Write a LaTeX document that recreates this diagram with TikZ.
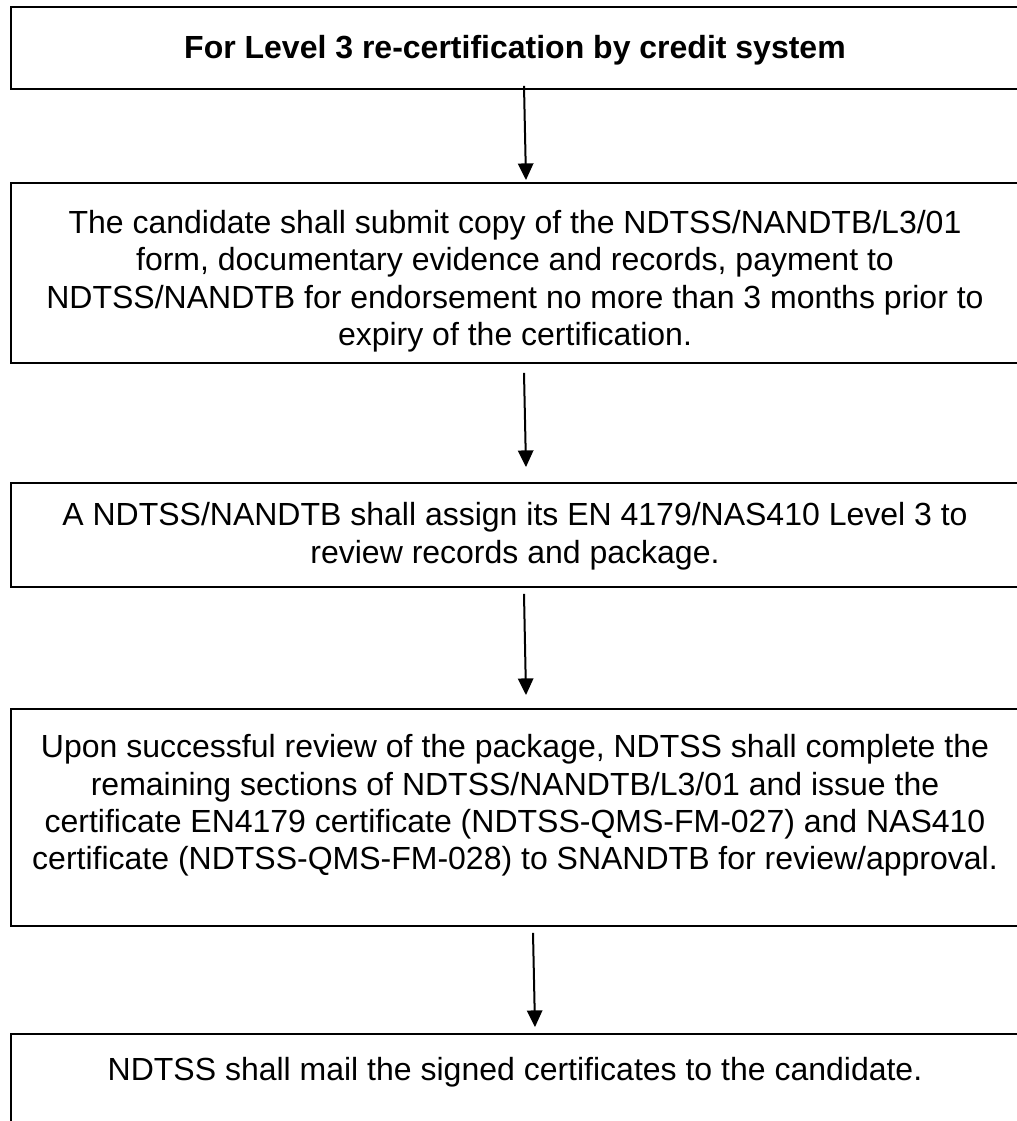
\documentclass[tikz,border=0pt]{standalone}
\usepackage{fontspec}
\setmainfont{Liberation Sans}
\usetikzlibrary{arrows.meta,calc}
\begin{document}
\begin{tikzpicture}[x=0.75pt,y=-0.75pt,
  boxshape/.style={draw=black,line width=1.4pt,rectangle,inner sep=0pt,minimum width=1010*0.75pt},
  txt/.style={align=center,inner sep=0pt,font=\fontsize{24pt}{28.1pt}\selectfont},
  arr/.style={line width=1.5pt,-{Triangle[length=12.5pt,width=11.5pt]}}]
\useasboundingbox (0,0) rectangle (1017,1121);
% boxes
\node[boxshape,minimum height=82*0.75pt]  (b1) at (516,48) {};
\node[boxshape,minimum height=180*0.75pt] (b2) at (516,273) {};
\node[boxshape,minimum height=104*0.75pt] (b3) at (516,535) {};
\node[boxshape,minimum height=217*0.75pt] (b4) at (516,817.5) {};
\node[boxshape,minimum height=120*0.75pt] (b5) at (516,1094) {};
% texts
\node[txt,font=\fontsize{24pt}{28.1pt}\selectfont\bfseries] (t1) at (515,50) {For Level 3 re-certification by credit system};
\node[txt] (t2) at (515,281) {The candidate shall submit copy of the NDTSS/NANDTB/L3/01\\form, documentary evidence and records, payment to\\NDTSS/NANDTB for endorsement no more than 3 months prior to\\expiry of the certification.};
\node[txt] (t3) at (515,536) {A NDTSS/NANDTB shall assign its EN 4179/NAS410 Level 3 to\\review records and package.};
\node[txt] (t4) at (515,805.5) {Upon successful review of the package, NDTSS shall complete the\\remaining sections of NDTSS/NANDTB/L3/01 and issue the\\certificate EN4179 certificate (NDTSS-QMS-FM-027) and NAS410\\certificate (NDTSS-QMS-FM-028) to SNANDTB for review/approval.};
\node[txt] (t5) at (515,1072) {NDTSS shall mail the signed certificates to the candidate.};
% arrows
\draw[arr] ($(b1.south)+(8,-4)$) -- ($(b2.north)+(10,-2)$);
\draw[arr] ($(b2.south)+(8,9)$) -- ($(b3.north)+(10,-15)$);
\draw[arr] ($(b3.south)+(8,6)$) -- ($(b4.north)+(10,-13)$);
\draw[arr] ($(b4.south)+(17,6)$) -- ($(b5.north)+(19,-6)$);
\end{tikzpicture}
\end{document}
